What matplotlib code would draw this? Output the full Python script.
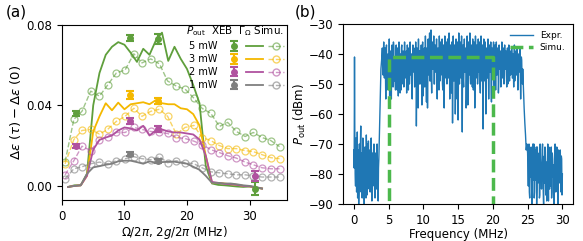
import numpy as np
import matplotlib
matplotlib.use("Agg")
import matplotlib.pyplot as plt
from matplotlib.lines import Line2D
from matplotlib.legend_handler import HandlerTuple

# ---------------- panel (a) data ----------------
powers = ["5 mW", "3 mW", "2 mW", "1 mW"]
colors = ["#5f9f3c", "#f4b800", "#b0529f", "#7f7f7f"]

# Gamma_Omega curves (solid), 1 MHz grid
x_gamma = list(range(1, 33))
gamma_5 = [-0.0005, 0.0003, 0.0003, 0.006, 0.040, 0.056, 0.065, 0.069, 0.0713, 0.070,
           0.066, 0.0615, 0.068, 0.065, 0.072, 0.076, 0.062, 0.069, 0.063, 0.058,
           0.050, 0.041, 0.010, 0.0012, 0.0005, 0.0003, 0.0, -0.0003, -0.0005, -0.0003,
           -0.0008, -0.0013]
gamma_3 = [-0.0005, 0.0, 0.0003, 0.005, 0.027, 0.0345, 0.041, 0.0375, 0.0413, 0.038,
           0.0405, 0.041, 0.0415, 0.0405, 0.0425, 0.041, 0.0405, 0.0405, 0.0385, 0.038,
           0.0356, 0.030, 0.015, 0.0015, 0.0015, 0.0012, 0.0008, 0.0005, 0.0, -0.0002,
           -0.0008, -0.0013]
gamma_2 = [-0.0005, 0.0, 0.0003, 0.005, 0.018, 0.0228, 0.024, 0.025, 0.0275, 0.029,
           0.0285, 0.0275, 0.0298, 0.025, 0.0275, 0.028, 0.027, 0.0265, 0.0265, 0.026,
           0.0255, 0.023, 0.015, 0.002, 0.0015, 0.001, 0.0008, 0.0005, 0.0, -0.0002,
           -0.0008, -0.0013]
gamma_1 = [-0.0005, 0.0, 0.0003, 0.006, 0.0092, 0.0098, 0.0105, 0.011, 0.0122, 0.0125,
           0.0125, 0.0118, 0.011, 0.0122, 0.0115, 0.0118, 0.012, 0.012, 0.0115, 0.011,
           0.0095, 0.008, 0.005, 0.0015, 0.0015, 0.0012, 0.0012, 0.0008, 0.0003, 0.0,
           -0.0005, -0.0013]

# simulation (dashed, open circles)
x_sim = [0.5, 1.9, 3.2, 4.6, 6.0, 7.3, 8.7, 10.1, 11.5, 12.8, 14.2, 15.6, 16.9,
         18.3, 19.7, 21.1, 22.4, 23.8, 25.2, 26.5, 27.9, 29.3, 30.6, 32.0, 33.4, 34.8]
sim_5 = [0.012, 0.033, 0.037, 0.047, 0.0445, 0.050, 0.056, 0.0575, 0.0655, 0.061,
         0.063, 0.0605, 0.052, 0.0495, 0.048, 0.0435, 0.0385, 0.036, 0.0295, 0.0315,
         0.027, 0.0245, 0.0265, 0.024, 0.0225, 0.0195]
sim_3 = [0.011, 0.023, 0.0275, 0.028, 0.0257, 0.028, 0.032, 0.0345, 0.0385, 0.0345,
         0.037, 0.038, 0.0345, 0.0257, 0.029, 0.030, 0.024, 0.0225, 0.020, 0.0185,
         0.0185, 0.0175, 0.017, 0.0155, 0.0140, 0.0135]
sim_2 = [0.0055, 0.0125, 0.0197, 0.0175, 0.023, 0.0245, 0.0265, 0.0265, 0.029, 0.028,
         0.027, 0.0265, 0.026, 0.024, 0.0235, 0.0222, 0.0205, 0.018, 0.0165, 0.015,
         0.0138, 0.0118, 0.0105, 0.009, 0.0085, 0.0085]
sim_1 = [0.0035, 0.0085, 0.0095, 0.011, 0.0118, 0.011, 0.0125, 0.0135, 0.0145, 0.0135,
         0.013, 0.0145, 0.0115, 0.0125, 0.0115, 0.011, 0.009, 0.007, 0.0065, 0.006,
         0.0055, 0.0055, 0.005, 0.0044, 0.0044, 0.0044]

# XEB measurements
xeb_x = {"5 mW": [2.3, 10.9, 15.4, 30.8], "3 mW": [10.9, 15.4],
         "2 mW": [2.3, 10.9, 15.4, 30.8], "1 mW": [10.9, 15.4]}
xeb_y = {"5 mW": [0.036, 0.0732, 0.073, -0.0013], "3 mW": [0.0449, 0.042],
         "2 mW": [0.0197, 0.0323, 0.028, 0.0048], "1 mW": [0.0156, 0.0123]}
xeb_err = {"5 mW": [0.0012, 0.0015, 0.0025, 0.003], "3 mW": [0.002, 0.0015],
           "2 mW": [0.001, 0.0015, 0.0015, 0.0025], "1 mW": [0.001, 0.001]}

gammas = [gamma_5, gamma_3, gamma_2, gamma_1]
sims = [sim_5, sim_3, sim_2, sim_1]

# ---------------- panel (b) data (dBm) ----------------
# 0 - 3.7 MHz, two interleaved readings
p_low1 = [-72, -41, -80, -68, -86, -66, -78, -90, -70, -83, -64, -79, -88, -68, -76, -90,
          -71, -82, -67, -87, -74, -69, -85, -72, -80, -68, -89, -73, -78, -70, -86, -74,
          -81, -71, -77, -89, -75, -64]
p_low1_b = [-78, -70, -84, -74, -80, -88, -72, -85, -76, -70, -86, -73, -81, -77, -84, -72,
            -79, -88, -75, -70, -83, -78, -73, -86, -71, -80, -76, -84, -72, -79, -88, -73,
            -85, -70, -82, -78, -70]
# 3.8 - 4.2 MHz
p_rise = [-55, -45, -42, -38, -47]
# 4.3 - 24.25 MHz
p_band = [-36, -48, -38, -55, -37, -46, -40, -50, -35, -47,
          -39, -55, -37, -45, -36, -49, -41, -52, -37, -46,
          -38, -54, -36, -47, -40, -52, -37, -45, -39, -51,
          -36, -48, -41, -53, -37, -46, -38, -50, -36, -47,
          -40, -55, -37, -46, -39, -49, -36, -64, -38, -47,
          -35, -50, -39, -45, -37, -57, -36, -48, -40, -51,
          -34, -46, -38, -58, -35, -47, -33, -49, -32, -53,
          -36, -45, -34, -50, -37, -46, -35, -55, -38, -47,
          -34, -49, -36, -45, -35, -52, -37, -58, -34, -46,
          -36, -50, -35, -47, -33, -55, -37, -46, -36, -63,
          -34, -49, -37, -60, -35, -47, -36, -62, -33, -50,
          -36, -48, -34, -66, -37, -51, -35, -46, -38, -55,
          -34, -57, -36, -47, -33, -50, -37, -46, -35, -52,
          -36, -58, -34, -48, -37, -50, -35, -46, -36, -53,
          -34, -49, -37, -65, -35, -47, -36, -60, -38, -48,
          -35, -55, -37, -46, -36, -56, -38, -48, -36, -51,
          -37, -52, -36, -47, -38, -53, -37, -45, -39, -49,
          -36, -48, -38, -50, -37, -45, -39, -51, -38, -46,
          -37, -49, -39, -45, -38, -48, -40, -51, -37, -46,
          -39, -47, -38, -52, -40, -46, -38, -55, -41, -48]
p_band_b = [-45, -42, -48, -39, -52, -44, -40, -47, -54, -43,
            -47, -41, -44, -51, -38, -46, -49, -41, -45, -52,
            -44, -40, -47, -53, -42, -38, -50, -45, -41, -48,
            -46, -42, -39, -48, -45, -52, -41, -47, -44, -40,
            -48, -41, -45, -38, -51, -46, -43, -49, -42, -58,
            -45, -39, -50, -43, -47, -41, -54, -44, -38, -48,
            -43, -56, -39, -46, -44, -40, -49, -42, -47, -39,
            -45, -41, -50, -38, -46, -43, -48, -40, -44, -52,
            -42, -39, -47, -44, -50, -38, -45, -41, -48, -43,
            -46, -40, -44, -48, -41, -45, -39, -53, -43, -47,
            -41, -45, -39, -48, -43, -55, -41, -46, -44, -40,
            -47, -42, -45, -39, -49, -43, -46, -41, -58, -44,
            -41, -46, -43, -39, -48, -42, -45, -51, -40, -46,
            -43, -48, -41, -45, -39, -47, -44, -42, -50, -41,
            -45, -40, -47, -43, -49, -41, -46, -44, -39, -48,
            -42, -47, -44, -41, -50, -43, -46, -40, -48, -45,
            -43, -41, -47, -44, -39, -49, -45, -42, -51, -44,
            -46, -43, -40, -48, -45, -42, -47, -44, -50, -43,
            -45, -42, -47, -44, -40, -48, -45, -43, -49, -46,
            -44, -47, -42, -49, -45, -43, -48, -46, -42, -50]
# 24.3 - 24.9 MHz
p_fall = [-45, -52, -58, -63, -67, -72, -70]
# 25 - 30 MHz
p_low2 = [-73, -84, -70, -88, -76, -71, -90, -74, -82, -70, -86, -72, -79, -90, -71, -83,
          -75, -88, -70, -78, -85, -72, -80, -90, -74, -71, -87, -76, -82, -70, -89, -73,
          -78, -84, -71, -86, -75, -80, -90, -72, -77, -85, -71, -83, -88, -74, -79, -72,
          -86, -75, -80]
p_low2_b = [-79, -75, -86, -72, -81, -78, -84, -70, -77, -88, -74, -82, -71, -85, -76, -80,
            -73, -87, -75, -81, -79, -70, -86, -77, -83, -72, -80, -89, -74, -78, -71, -85,
            -82, -76, -88, -73, -81, -77, -84, -70, -86, -79, -75, -90, -72, -83, -77, -81,
            -74, -87]

sim_f = [5, 5, 20, 20]
sim_p = [-95, -41, -41, -95]


def interleave(a, b):
    out = []
    for i, v in enumerate(a):
        out.append(v)
        if i < len(b):
            out.append(b[i])
    return out


seg_low1 = interleave(p_low1, p_low1_b)
seg_band = interleave(p_band, p_band_b)
seg_low2 = interleave(p_low2, p_low2_b)
p_out = seg_low1 + p_rise + seg_band + p_fall + seg_low2
freq = np.concatenate([np.linspace(0, 3.7, len(seg_low1)),
                       np.linspace(3.8, 4.2, len(p_rise)),
                       np.linspace(4.3, 24.25, len(seg_band)),
                       np.linspace(24.3, 24.9, len(p_fall)),
                       np.linspace(25.0, 30.0, len(seg_low2))])

# ---------------- figure ----------------
plt.rcParams['font.size'] = 8.5
fig = plt.figure(figsize=(5.83, 2.41), dpi=100)
ax1 = fig.add_axes([0.1063, 0.170, 0.386, 0.728])
ax2 = fig.add_axes([0.589, 0.1535, 0.3935, 0.747])

handles = []
for p, c, g, s in zip(powers, colors, gammas, sims):
    ax1.plot(x_sim, s, '--o', color=c, alpha=0.6, lw=1, ms=5, mfc='none', mew=0.9)
    ax1.plot(x_gamma, g, '-', color=c, lw=1.3)
    eb = ax1.errorbar(xeb_x[p], xeb_y[p], yerr=xeb_err[p], fmt='o', color=c, ms=4,
                      capsize=3, elinewidth=1.5, capthick=1.5)
    h_solid = Line2D([], [], color=c, lw=1.3)
    h_dash = Line2D([], [], color=c, ls='--', marker='o', ms=5, mfc='none', alpha=0.6, lw=1)
    handles.append((eb, h_solid, h_dash))

ax1.set_xlim(0, 36)
ax1.set_ylim(-0.007, 0.080)
ax1.set_xticks([0, 10, 20, 30])
ax1.set_yticks([0.0, 0.04, 0.08])
ax1.set_yticklabels(["0.00", "0.04", "0.08"])
ax1.set_xlabel(r"$\Omega/2\pi$, $2g/2\pi$ (MHz)", labelpad=1)
ax1.set_ylabel(r"$\Delta\epsilon\ (\tau) - \Delta\epsilon\ (0)$", fontsize=9.5, labelpad=2)
leg = ax1.legend(handles, powers, handler_map={tuple: HandlerTuple(ndivide=None, pad=0.5)},
                 loc='upper right', bbox_to_anchor=(1.02, 1.045), frameon=False,
                 markerfirst=False, handlelength=6.0, fontsize=7, labelspacing=0.3,
                 title=r"$P_\mathrm{out}$  XEB  $\Gamma_\Omega$ Simu.",
                 title_fontsize=7.5, alignment='right', borderpad=0.3)
fig.text(0.01, 0.93, "(a)", fontsize=11)

ax2.plot(freq, p_out, color='#1f77b4', lw=1.0, label='Expr.')
ax2.plot(sim_f, sim_p, '--', color='#4cb84c', lw=2.5, label='Simu.')
ax2.set_xlim(-1.5, 31.5)
ax2.set_ylim(-90, -30)
ax2.set_xticks([0, 5, 10, 15, 20, 25, 30])
ax2.set_yticks([-90, -80, -70, -60, -50, -40, -30])
ax2.set_xlabel("Frequency (MHz)", labelpad=1)
ax2.set_ylabel(r"$P_\mathrm{out}$ (dBm)", labelpad=1)
ax2.legend(loc='upper right', frameon=False, fontsize=6.5, handlelength=2.5,
           borderpad=0.3, labelspacing=0.3)
fig.text(0.505, 0.93, "(b)", fontsize=11)

fig.savefig("out.png", dpi=100)
